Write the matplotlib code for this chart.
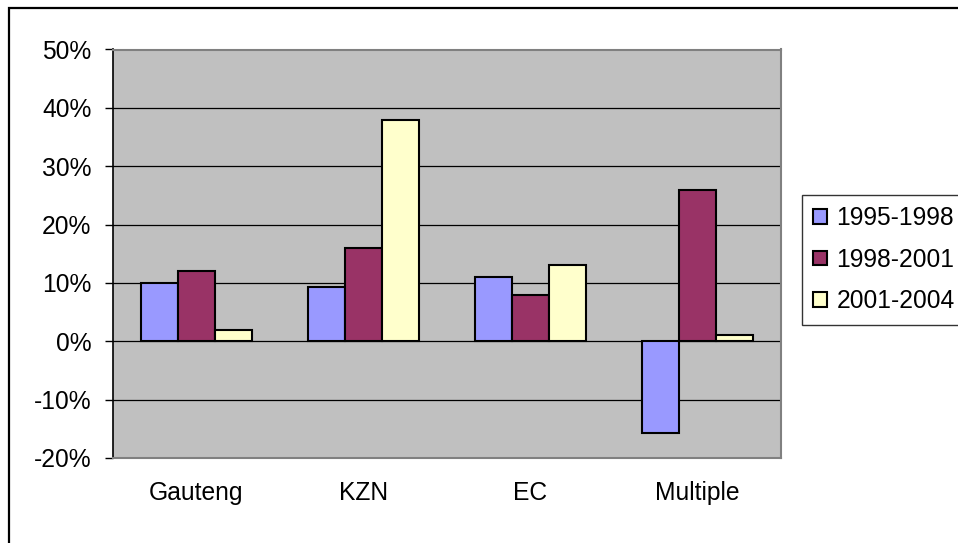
import matplotlib
matplotlib.use("Agg")
import matplotlib.pyplot as plt
from matplotlib.patches import Rectangle, Patch
from matplotlib.ticker import FuncFormatter
import numpy as np

# Data: growth by region for three periods (fractions)
regions = ["Gauteng", "KZN", "EC", "Multiple"]
periods = ["1995-1998", "1998-2001", "2001-2004"]
growth_1995_1998 = [0.10, 0.093, 0.11, -0.157]
growth_1998_2001 = [0.12, 0.16, 0.08, 0.26]
growth_2001_2004 = [0.02, 0.38, 0.13, 0.01]
y_ticks = [-0.2, -0.1, 0.0, 0.1, 0.2, 0.3, 0.4, 0.5]

colors = ["#9999FF", "#993366", "#FFFFCC"]
series = [growth_1995_1998, growth_1998_2001, growth_2001_2004]

plt.rcParams["font.family"] = ["Liberation Sans", "DejaVu Sans"]
FS = 17.7

fig = plt.figure(figsize=(9.58, 5.43), dpi=100)
fig.patch.set_facecolor("white")

W, H = 958.0, 543.0
ax = fig.add_axes([113 / W, 1 - 458 / H, (781 - 113) / W, (458 - 49.5) / H])
ax.set_facecolor("#C0C0C0")

x = np.arange(len(regions))
bw = 1.0 / 4.5
for i, (vals, col, lab) in enumerate(zip(series, colors, periods)):
    ax.bar(x + (i - 1) * bw, vals, width=bw, color=col, edgecolor="black",
           linewidth=1.5, label=lab, zorder=3)

ax.set_xlim(-0.5, len(regions) - 0.5)
ax.set_ylim(-0.2, 0.5)
ax.set_yticks(y_ticks)
ax.yaxis.set_major_formatter(FuncFormatter(lambda v, p: f"{v * 100:.0f}%"))
ax.set_xticks(x)
ax.set_xticklabels(regions)

ax.yaxis.grid(True, color="black", linewidth=0.9, zorder=1)
ax.set_axisbelow(True)

ax.tick_params(axis="y", direction="out", length=6, width=1, color="black",
               labelsize=FS, pad=9.5)
ax.tick_params(axis="x", length=0, labelsize=FS, pad=16.5)

for side in ("top", "right", "bottom"):
    ax.spines[side].set_color("#808080")
    ax.spines[side].set_linewidth(1.5)
ax.spines["left"].set_color("black")
ax.spines["left"].set_linewidth(1.2)

# Legend to the right of the plot area
handles = [Patch(facecolor=c, edgecolor="black", linewidth=1.5) for c in colors]
leg = fig.legend(handles, periods, loc="upper left",
                 bbox_to_anchor=(802 / W, 1 - 195 / H),
                 fontsize=FS, frameon=True, fancybox=False, shadow=False,
                 handlelength=0.55, handleheight=0.55, handletextpad=0.4,
                 borderpad=0.45, labelspacing=0.72, borderaxespad=0)
leg.get_frame().set_edgecolor("black")
leg.get_frame().set_linewidth(1.0)

# Chart-area border
fig.patches.append(Rectangle((8.5 / W, -0.5), 2.0, 1 - 7.5 / H + 0.5,
                             transform=fig.transFigure, fill=False,
                             edgecolor="black", linewidth=1.6, zorder=0))

fig.savefig("out.png", dpi=100)
